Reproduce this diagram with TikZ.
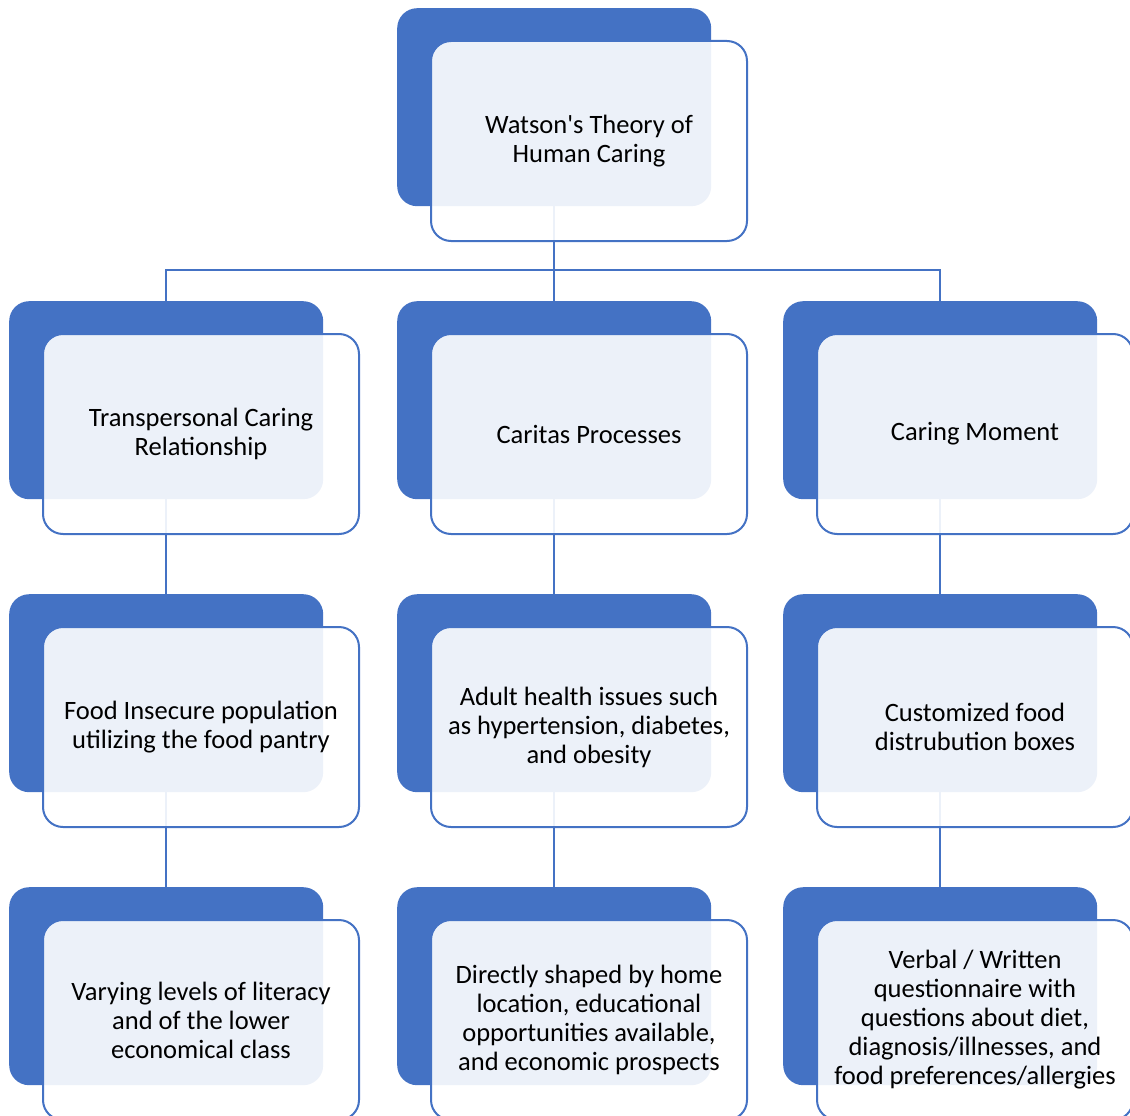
\documentclass[tikz,border=0pt]{standalone}
\usepackage{fontspec}
\setmainfont{Carlito}[Ligatures=TeXOff]
\definecolor{accent}{HTML}{4472C4}
\begin{document}
\begin{tikzpicture}[x=1pt,y=-1pt,
  backbox/.style={fill=accent, draw=none, rounded corners=20pt,
    minimum width=314pt, minimum height=198pt, inner sep=0pt, anchor=north west},
  frontbox/.style={fill=white, fill opacity=0.9, text opacity=1, draw=accent,
    line width=2pt, rounded corners=20pt, minimum width=316pt, minimum height=200pt,
    inner sep=0pt, anchor=north west, align=center,
    font=\fontsize{26.5}{29}\selectfont},
  link/.style={draw=accent, line width=2pt}]
\useasboundingbox (0,0) rectangle (1130,1116);

% solid back cards
\node[backbox] (b0)  at (397,8)   {};
\node[backbox] (b21) at (9,301)   {};
\node[backbox] (b22) at (397,301) {};
\node[backbox] (b23) at (783,301) {};
\node[backbox] (b31) at (9,594)   {};
\node[backbox] (b32) at (397,594) {};
\node[backbox] (b33) at (783,594) {};
\node[backbox] (b41) at (9,887)   {};
\node[backbox] (b42) at (397,887) {};
\node[backbox] (b43) at (783,887) {};

% hierarchy connectors
\coordinate (hub) at (554,270);
\draw[link] (b0.south) -- (b22.north);
\draw[link] (b21.north) |- (hub) -| (b23.north);
\draw[link] (b21.south) -- (b31.north);
\draw[link] (b22.south) -- (b32.north);
\draw[link] (b23.south) -- (b33.north);
\draw[link] (b31.south) -- (b41.north);
\draw[link] (b32.south) -- (b42.north);
\draw[link] (b33.south) -- (b43.north);

% translucent text cards
\node[frontbox] (f0)  at (430,40)  {Watson's Theory of\\Human Caring};
\node[frontbox] (f21) at (42,333)  {Transpersonal Caring\\Relationship};
\node[frontbox] (f22) at (430,333) {Caritas Processes};
\node[frontbox] (f23) at (816,333) {Caring Moment};
\node[frontbox] (f31) at (42,626)  {Food Insecure population\\utilizing the food pantry};
\node[frontbox] (f32) at (430,626) {Adult health issues such\\as hypertension, diabetes,\\and obesity};
\node[frontbox] (f33) at (816,626) {Customized food\\distrubution boxes};
\node[frontbox] (f41) at (42,919)  {Varying levels of literacy\\and of the lower\\economical class};
\node[frontbox] (f42) at (430,919) {Directly shaped by home\\location, educational\\opportunities available,\\and economic prospects};
\node[frontbox] (f43) at (816,919) {Verbal / Written\\questionnaire with\\questions about diet,\\diagnosis/illnesses, and\\food preferences/allergies};
\end{tikzpicture}
\end{document}
